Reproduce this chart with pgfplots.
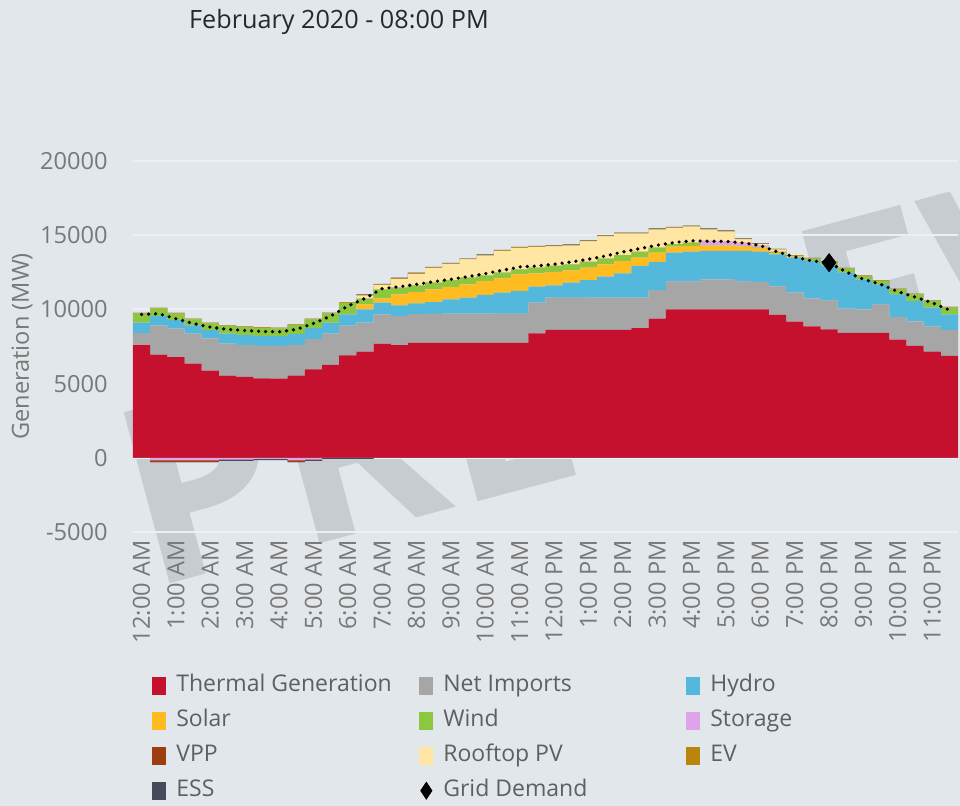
\documentclass[border=0pt]{standalone}
\usepackage{pgfplots}
\pgfplotsset{compat=1.18}
\usepackage{pgfplotstable}
\usepackage{fontspec}
\setmainfont{Open Sans}
\definecolor{bgc}{RGB}{226,231,235}
\definecolor{gridc}{RGB}{237,240,243}
\definecolor{thc}{RGB}{198,17,46}
\definecolor{imc}{RGB}{166,166,166}
\definecolor{hyc}{RGB}{84,184,220}
\definecolor{soc}{RGB}{255,188,33}
\definecolor{wic}{RGB}{141,198,63}
\definecolor{stc}{RGB}{224,162,232}
\definecolor{vpc}{RGB}{158,62,16}
\definecolor{rpc}{RGB}{255,230,162}
\definecolor{evc}{RGB}{184,134,11}
\definecolor{esc}{RGB}{70,74,90}
\definecolor{tickc}{RGB}{120,120,120}
\definecolor{legc}{RGB}{95,95,95}
\definecolor{titc}{RGB}{40,40,40}
\definecolor{wmc}{RGB}{199,204,209}

\pgfplotstableread{
x th im hy so wi st vp rp ev es
0 7590 810 700 0 610 0 0 0 50 0
1 6950 1980 620 0 495 0 0 0 50 0
2 6780 1930 590 0 410 0 0 0 50 0
3 6350 2020 560 0 395 0 0 0 50 0
4 5880 2170 570 0 430 0 0 0 50 0
5 5540 2160 670 0 500 0 0 0 50 0
6 5450 2160 670 0 525 0 0 0 50 0
7 5360 2190 650 0 560 0 0 0 50 0
8 5340 2210 650 0 515 0 0 0 50 0
9 5540 2070 730 0 600 0 0 0 50 0
10 5950 2050 730 0 595 0 0 0 50 0
11 6260 2110 730 0 630 0 0 0 50 0
12 6900 2000 760 0 760 0 0 20 50 0
13 7160 1940 900 340 380 0 0 210 50 30
14 7680 1980 790 290 610 0 0 290 50 30
15 7590 1960 720 740 455 0 0 595 50 30
16 7750 1930 725 765 450 0 0 770 50 30
17 7750 1950 795 855 450 0 0 980 50 30
18 7750 1970 955 835 470 0 0 1070 50 30
19 7750 1970 1070 900 450 0 0 1225 50 30
20 7750 1970 1250 945 385 0 0 1325 50 30
21 7750 1970 1410 965 385 0 0 1450 50 30
22 7750 1970 1520 1125 335 0 0 1440 50 30
23 8380 2070 1080 900 385 0 0 1385 50 30
24 8620 2180 820 900 410 0 0 1320 50 30
25 8620 2180 1000 835 405 0 0 1260 50 30
26 8620 2180 1180 835 385 0 0 1380 50 30
27 8620 2180 1410 830 385 0 0 1495 50 30
28 8620 2180 1630 835 385 0 0 1450 50 30
29 8740 2060 2130 560 380 0 0 1230 50 30
30 9370 1930 1900 630 335 0 0 1215 50 30
31 10000 1880 1950 405 155 0 0 1090 50 30
32 10000 1880 2020 380 225 0 0 1065 50 30
33 10000 2030 1910 360 20 300 0 760 50 30
34 10000 2030 1910 360 20 280 0 640 50 30
35 10000 1880 2070 300 20 210 0 240 50 30
36 10000 1850 2050 250 20 130 0 90 50 30
37 9630 1920 2165 85 70 0 0 160 50 0
38 9180 1970 2340 30 40 0 0 40 50 0
39 8850 1900 2515 0 160 0 0 0 50 0
40 8650 1950 2330 0 250 0 0 0 50 0
41 8420 1630 2430 0 270 0 0 0 50 0
42 8420 1580 2030 0 220 0 0 0 50 0
43 8420 1920 1350 0 225 0 0 0 50 0
44 7970 1530 1510 0 340 0 0 0 50 0
45 7550 1650 1360 0 450 0 0 0 50 0
46 7150 1700 1265 0 445 0 0 0 50 0
47 6870 1730 1060 0 455 0 0 0 50 0
48 6870 1730 1060 0 455 0 0 0 50 0
}\gendata

\pgfplotstableread{
x d
0.5 9660
1.5 9710
2.5 9370
3.5 9050
4.5 8805
5.5 8650
6.5 8580
7.5 8510
8.5 8490
9.5 8650
10.5 9050
11.5 9550
12.5 10220
13.5 10740
14.5 11400
15.5 11530
16.5 11690
17.5 11870
18.5 12030
19.5 12210
20.5 12410
21.5 12635
22.5 12860
23.5 12930
24.5 13040
25.5 13200
26.5 13380
27.5 13600
28.5 13870
29.5 14100
30.5 14325
31.5 14505
32.5 14620
33.5 14595
34.5 14580
35.5 14480
36.5 14300
37.5 13870
38.5 13535
39.5 13265
40.5 13150
41.5 12520
42.5 12030
43.5 11690
44.5 11195
45.5 10830
46.5 10450
47.5 9955
}\demdata

\pgfplotstableread{
x st vp es
0 0 0 0
1 -180 -300 -300
2 -180 -300 -300
3 -180 -300 -300
4 -180 -300 -300
5 -120 -120 -200
6 -120 -120 -200
7 -80 -80 -150
8 -80 -80 -150
9 -180 -300 -300
10 -120 -120 -200
11 0 0 -70
12 0 0 -70
13 0 0 -70
14 0 0 0
15 0 0 0
48 0 0 0
}\negdata

\pgfplotsset{base/.style={
  at={(0pt,0pt)}, anchor=south west,
  width=412.5pt, height=185.5pt, scale only axis,
  xmin=0, xmax=48, ymin=-5000, ymax=20000}}

\begin{document}
\begin{tikzpicture}
\useasboundingbox[fill=bgc] (-66.5pt,-137pt) rectangle (413.5pt,266pt);
\node[rotate=15, anchor=base west, inner sep=0pt, text=wmc, font=\fontsize{124}{124}\selectfont\bfseries] at (7.5pt,-29pt) {PREVIEW};
\node[font=\fontsize{12.6}{15}\selectfont, text=titc] at (103pt,255pt) {February 2020 - 08:00 PM};
\begin{axis}[base,
  stack plots=y,
  axis line style={draw=none},
  major tick length=0pt,
  scaled y ticks=false,
  ytick={-5000,0,5000,10000,15000,20000},
  yticklabels={-5000,0,5000,10000,15000,20000},
  ymajorgrids, grid style={line width=0.9pt, color=gridc},
  xtick={0.5,2.5,...,46.5},
  xticklabels={12:00 AM,1:00 AM,2:00 AM,3:00 AM,4:00 AM,5:00 AM,6:00 AM,7:00 AM,8:00 AM,9:00 AM,10:00 AM,11:00 AM,12:00 PM,1:00 PM,2:00 PM,3:00 PM,4:00 PM,5:00 PM,6:00 PM,7:00 PM,8:00 PM,9:00 PM,10:00 PM,11:00 PM},
  xticklabel style={rotate=90, anchor=east, inner sep=0pt, font=\fontsize{11.8}{14}\selectfont, text=tickc},
  xticklabel shift=4pt,
  yticklabel style={anchor=east, inner sep=0pt, xshift=-12.5pt, font=\fontsize{11.8}{14}\selectfont, text=tickc},
  ylabel={Generation (MW)},
  ylabel style={at={(axis description cs:-0.1345,0.5)}, anchor=center, font=\fontsize{11.8}{14}\selectfont, text=tickc},
  legend columns=3,
  legend cell align=left,
  legend style={at={(axis description cs:0.0157,-0.370)}, anchor=north west,
    draw=none, fill=none, font=\fontsize{11.5}{13}\selectfont, text=legc,
    nodes={inner xsep=0pt, inner ysep=0pt, text height=9pt, text depth=3pt},
    row sep=5.5pt,
    /tikz/every odd column/.append style={column sep=5pt}},
  legend image code/.code={\fill[#1] (0pt,-4.5pt) rectangle (7pt,4.5pt);},
]
\addplot[fill=thc, draw=none, const plot] table[x=x,y=th]{\gendata} \closedcycle;
\addlegendentry{\makebox[121.5pt][l]{Thermal Generation}}
\addplot[fill=imc, draw=none, const plot] table[x=x,y=im]{\gendata} \closedcycle;
\addlegendentry{\makebox[121.5pt][l]{Net Imports}}
\addplot[fill=hyc, draw=none, const plot] table[x=x,y=hy]{\gendata} \closedcycle;
\addlegendentry{Hydro}
\addplot[fill=soc, draw=none, const plot] table[x=x,y=so]{\gendata} \closedcycle;
\addlegendentry{\makebox[121.5pt][l]{Solar}}
\addplot[fill=wic, draw=none, const plot] table[x=x,y=wi]{\gendata} \closedcycle;
\addlegendentry{\makebox[121.5pt][l]{Wind}}
\addplot[fill=stc, draw=none, const plot] table[x=x,y=st]{\gendata} \closedcycle;
\addlegendentry{Storage}
\addplot[fill=vpc, draw=none, const plot] table[x=x,y=vp]{\gendata} \closedcycle;
\addlegendentry{\makebox[121.5pt][l]{VPP}}
\addplot[fill=rpc, draw=none, const plot] table[x=x,y=rp]{\gendata} \closedcycle;
\addlegendentry{\makebox[121.5pt][l]{Rooftop PV}}
\addplot[fill=evc, draw=none, const plot] table[x=x,y=ev]{\gendata} \closedcycle;
\addlegendentry{EV}
\addplot[fill=esc, draw=none, const plot] table[x=x,y=es]{\gendata} \closedcycle;
\addlegendentry{\makebox[121.5pt][l]{ESS}}
\addlegendimage{legend image code/.code={\fill[black] (3.5pt,4.2pt) -- (6.3pt,0pt) -- (3.5pt,-4.2pt) -- (0.7pt,0pt) -- cycle;}}
\addlegendentry{Grid Demand}
\end{axis}
\begin{axis}[base, hide axis]
\addplot[fill=esc, draw=none, const plot] table[x=x,y=es]{\negdata} \closedcycle;
\addplot[fill=vpc, draw=none, const plot] table[x=x,y=vp]{\negdata} \closedcycle;
\addplot[fill=stc, draw=none, const plot] table[x=x,y=st]{\negdata} \closedcycle;
\addplot[black, line width=1.8pt, line cap=round, dash pattern=on 0pt off 3.5pt,
  mark=diamond*, mark indices={41}, mark size=4.5pt, mark options={solid, fill=black, line width=0.4pt}]
  table[x=x,y=d]{\demdata};
\end{axis}
\end{tikzpicture}
\end{document}
